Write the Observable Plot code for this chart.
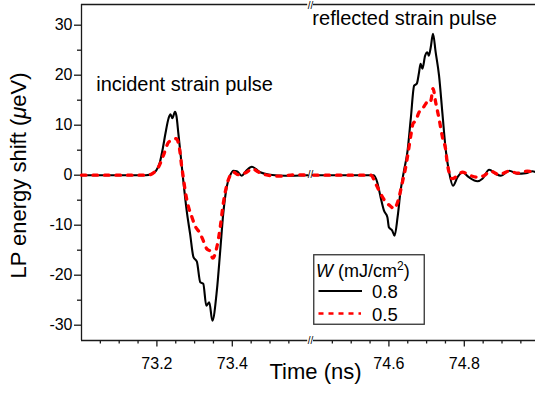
<!DOCTYPE html>
<html><head><meta charset="utf-8">
<script src="https://cdn.jsdelivr.net/npm/d3@7"></script>
<script src="https://cdn.jsdelivr.net/npm/@observablehq/plot@0.6"></script>
<style>
html,body{margin:0;padding:0;background:#fff;}
#chart{position:relative;width:535px;height:401px;font-family:"Liberation Sans",Arial,sans-serif;}
#chart svg{display:block;}
</style></head><body>
<div id="chart"></div>
<script>
// ---- data (time in ns, LP energy shift in µeV) ----
const incTime08 = [73.000,73.129,73.171,73.187,73.198,73.208,73.216,73.223,73.231,73.236,73.241,73.248,73.252,73.257,73.263,73.270,73.279,73.288,73.297,73.306,73.315,73.323,73.331,73.339,73.347,73.359,73.368,73.376,73.385,73.394,73.403,73.412,73.425,73.437,73.452,73.463,73.474,73.500,73.540,73.600];
const incShift08 = [0,0,0,0.3,0.9,2.6,5.5,8.5,11.4,12.2,11.4,12.7,11.8,8.3,4.0,-1.1,-7.1,-11.7,-16.4,-17.3,-21.4,-21.7,-26.1,-25.4,-29.1,-23.1,-15.1,-7.7,-2.4,-0.1,0.9,0.8,-0.1,0.9,1.7,1.2,0.6,0.1,-0.1,0];
const incTime05 = [73.000,73.169,73.182,73.193,73.204,73.217,73.231,73.244,73.251,73.260,73.266,73.270,73.275,73.284,73.293,73.301,73.315,73.323,73.332,73.341,73.348,73.359,73.368,73.376,73.385,73.394,73.403,73.416,73.438,73.453,73.468,73.487,73.527,73.566,73.600];
const incShift05 = [0,0,0.1,0.6,1.6,3.9,6.6,7.1,7.3,5.3,1.6,-0.4,-3.1,-6.4,-8.4,-10.1,-11.7,-13.1,-14.7,-15.2,-16.6,-14.4,-10.4,-5.7,-2.1,-0.1,0.6,0.1,0.6,1.3,0.7,0.1,-0.2,0.1,0];
const refTime08 = [74.400,74.472,74.544,74.560,74.569,74.578,74.587,74.596,74.600,74.609,74.615,74.623,74.631,74.640,74.649,74.658,74.667,74.674,74.680,74.684,74.689,74.696,74.702,74.706,74.711,74.717,74.724,74.733,74.742,74.751,74.759,74.770,74.782,74.795,74.812,74.835,74.848,74.866,74.883,74.897,74.919,74.941,74.963,74.981,74.990];
const refShift08 = [0,0,0,0,-1.4,-4.4,-7.1,-8.4,-10.4,-11.1,-12.1,-8.4,-3.1,0.9,4.6,11.3,17.9,18.3,20.6,22.3,21.3,23.9,24.6,23.9,25.6,28.3,24.6,19.9,12.3,4.9,0.9,-2.1,-0.4,0.6,-0.4,-1.2,-0.7,1.1,0.3,-0.1,0.9,0.3,0.4,0.8,0.6];
const refTime05 = [74.400,74.538,74.552,74.565,74.578,74.592,74.603,74.614,74.623,74.631,74.637,74.643,74.650,74.658,74.664,74.671,74.680,74.689,74.698,74.705,74.711,74.717,74.724,74.733,74.742,74.751,74.755,74.768,74.782,74.795,74.817,74.835,74.852,74.870,74.892,74.919,74.941,74.967,74.990];
const refShift05 = [0,0,0,-1.7,-3.7,-5.4,-6.1,-6.7,-5.4,-3.1,-1.0,1.0,4.0,7.9,10.3,10.9,12.6,13.3,14.3,15.1,14.9,17.3,14.6,11.3,7.6,4.9,2.3,-0.7,-0.1,0.6,-0.1,-0.4,-0.1,0.8,0.1,0.8,0.4,0.8,0.6];

const xMajorTicks = [73.2, 73.4, 74.6, 74.8];
const yMajorTicks = [-30, -20, -10, 0, 10, 20, 30];
const yMinorTicks = [-25, -15, -5, 5, 15, 25];
const xMinorTicks = [73.05,73.1,73.15,73.25,73.3,73.35,73.45,73.5,73.55,74.45,74.5,74.55,74.65,74.7,74.75,74.85,74.9,74.95];

const annotText = ["incident strain pulse", "reflected strain pulse"];
const annotTime = [73.039, 74.397];
const annotShift = [16.8, 29.95];

const legendTitle = "W";
const legendUnit = " (mJ/cm";
const legendLabels = ["0.8", "0.5"];
const seriesColors = ["#000000", "#ff0000"];

const xLabel = "Time (ns)";
const yLabelParts = ["LP energy shift (", "μ", "eV)"];

// ---- broken axis mapping ----
const leftStart = 73.0, breakStart = 73.6, breakEnd = 74.4;
const gap = 0.0154;
const xpos = t => t < 74 ? t - leftStart : t - breakEnd + (breakStart - leftStart) + gap;
const xinv = p => p < 0.61 ? p + leftStart : p - (breakStart - leftStart) - gap + breakEnd;
const W = 535, H = 401, mL = 81, mR = 0, mT = 4, mB = 61;
const pxPerNs = 377;
const xMax = (W - mL - mR) / pxPerNs;
const yDomain = [-33.06, 34.14];
const xBreakMid = (xpos(breakStart - 1e-9) + xpos(breakEnd)) / 2;

const mk = (times, vals, key) => times.map((t, i) => ({x: xpos(t), y: vals[i], key}));
const black = [...mk(incTime08, incShift08, "inc"), ...mk(refTime08, refShift08, "ref")];
const red = [...mk(incTime05, incShift05, "inc"), ...mk(refTime05, refShift05, "ref")];

const FONT = '"Liberation Sans", Arial, sans-serif';
const AX = "#1a1a1a";
const yLabel = yLabelParts.join("");

const plot = Plot.plot({
  width: W, height: H,
  marginLeft: mL, marginRight: mR, marginTop: mT, marginBottom: mB,
  style: {fontFamily: FONT, fontSize: "16px", color: "#000", background: "#fff"},
  x: {domain: [0, xMax]},
  y: {domain: yDomain},
  marks: [
    // frame
    Plot.ruleX([xpos(leftStart)], {y1: yDomain[0], y2: yDomain[1], stroke: AX, strokeWidth: 1.3}),
    Plot.ruleY([yDomain[1], yDomain[0]], {x1: xpos(leftStart), x2: xpos(breakStart - 1e-9), stroke: AX, strokeWidth: 1.3}),
    Plot.ruleY([yDomain[1], yDomain[0]], {x1: xpos(breakEnd), x2: xMax, stroke: AX, strokeWidth: 1.3}),
    // axes
    Plot.axisX(xMajorTicks.map(xpos), {tickSize: 6.5, tickPadding: 11, tickFormat: d => xinv(d).toFixed(1), fontSize: 16, stroke: AX, strokeWidth: 1.3, label: null}),
    Plot.axisX(xMinorTicks.map(xpos), {tickSize: 3.5, tickFormat: () => "", stroke: AX, strokeWidth: 1.3, label: null}),
    Plot.axisY(yMajorTicks, {tickSize: 7, tickPadding: 2, tickFormat: d => String(d), fontSize: 16, stroke: AX, strokeWidth: 1.3, label: null}),
    Plot.axisY(yMinorTicks, {tickSize: 4, tickFormat: () => "", stroke: AX, strokeWidth: 1.3, label: null}),
    // data
    Plot.line(black, {x: "x", y: "y", z: "key", stroke: seriesColors[0], strokeWidth: 2.1, curve: "monotone-x"}),
    Plot.line(red, {x: "x", y: "y", z: "key", stroke: seriesColors[1], strokeWidth: 3.3, strokeDasharray: "4.5,7", strokeLinecap: "round", curve: "monotone-x"}),
    // break marks
    Plot.text(["//"], {x: () => xBreakMid, frameAnchor: "top", lineAnchor: "middle", dy: 1.5, fontSize: 10, fill: "#000"}),
    Plot.text(["//"], {x: () => xBreakMid, frameAnchor: "bottom", lineAnchor: "middle", fontSize: 10, fill: "#000"}),
    Plot.text(["//"], {x: () => xBreakMid, y: () => 0, lineAnchor: "middle", fontSize: 10, fill: "#000"}),
    // annotations
    Plot.text(annotText, {x: (d, i) => xpos(annotTime[i]), y: (d, i) => annotShift[i], text: d => d, textAnchor: "start", lineAnchor: "bottom", fontSize: 20, fill: "#000"}),
    // axis titles
    Plot.text([xLabel], {frameAnchor: "bottom", dx: 7, dy: 38, textAnchor: "middle", lineAnchor: "bottom", fontSize: 22, fill: "#000"}),
    Plot.text([yLabel], {frameAnchor: "left", dx: -63, dy: 3, rotate: -90, textAnchor: "middle", lineAnchor: "middle", fontSize: 22, fill: "#000"})
  ]
});

// italic mu in y label
d3.select(plot).selectAll("text").filter(function() { return this.textContent === yLabel; }).each(function() {
  const t = d3.select(this);
  t.text(null);
  t.append("tspan").text(yLabelParts[0]);
  t.append("tspan").attr("font-style", "italic").text(yLabelParts[1]);
  t.append("tspan").text(yLabelParts[2]);
});

const chart = document.getElementById("chart");
chart.appendChild(plot);

// legend overlay
const lg = d3.select(chart).append("svg")
  .attr("width", 112).attr("height", 72)
  .style("position", "absolute").style("left", "312.5px").style("top", "253.5px")
  .style("font-family", FONT);
lg.append("rect").attr("x", 0.75).attr("y", 0.75).attr("width", 110.5).attr("height", 69.5)
  .attr("fill", "#fff").attr("stroke", "#333").attr("stroke-width", 1.3);
const title = lg.append("text").attr("x", 3).attr("y", 22.5).attr("font-size", 18).attr("fill", "#000");
title.append("tspan").attr("font-style", "italic").text(legendTitle);
title.append("tspan").text(legendUnit);
title.append("tspan").attr("dy", -7).attr("font-size", 12).text("2");
title.append("tspan").attr("dy", 7).text(")");
const rowsY = [37, 59.5];
legendLabels.forEach((lab, i) => {
  lg.append("line").attr("x1", 5.5).attr("x2", i === 0 ? 49 : 48).attr("y1", rowsY[i]).attr("y2", rowsY[i])
    .attr("stroke", seriesColors[i]).attr("stroke-width", i === 0 ? 2.2 : 2.4)
    .attr("stroke-dasharray", i === 0 ? null : "5,5");
  lg.append("text").attr("x", 59).attr("y", rowsY[i] + 7).attr("font-size", 18.5).attr("fill", "#000").text(lab);
});
</script>
</body></html>
